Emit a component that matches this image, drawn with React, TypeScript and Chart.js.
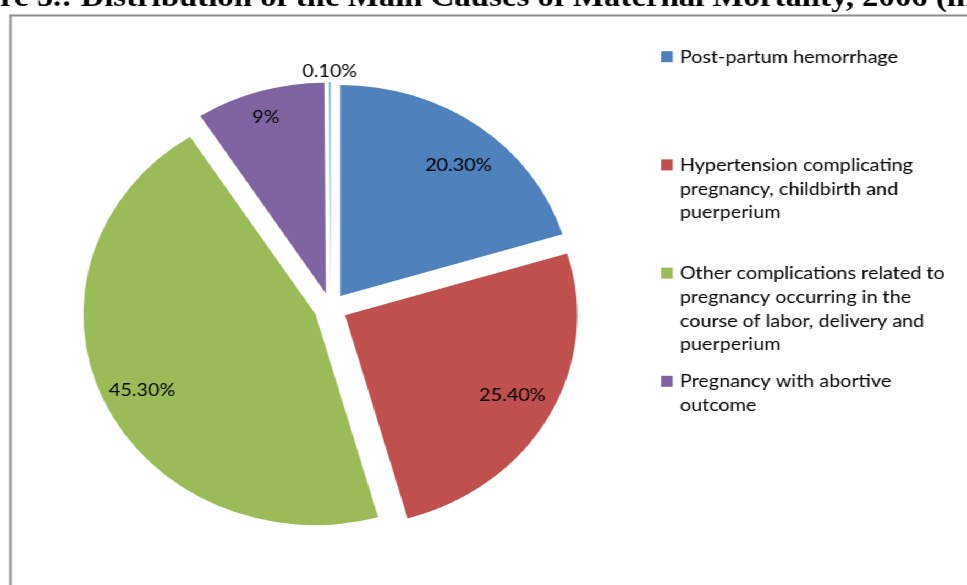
import React, { useEffect, useRef } from "react";
import { Chart, registerables } from "chart.js";

Chart.register(...registerables);

const categories = [
  "Post-partum hemorrhage",
  "Hypertension complicating pregnancy, childbirth and puerperium",
  "Other complications related to pregnancy occurring in the course of labor, delivery and puerperium",
  "Pregnancy with abortive outcome",
  "",
];
const values = [20.3, 25.4, 45.3, 9, 0.1];
const valueLabels = ["20.30%", "25.40%", "45.30%", "9%", "0.10%"];
const legendLines = [
  ["Post-partum hemorrhage"],
  ["Hypertension complicating", "pregnancy, childbirth and", "puerperium"],
  [
    "Other complications related to",
    "pregnancy occurring in the",
    "course of labor, delivery and",
    "puerperium",
  ],
  ["Pregnancy with abortive", "outcome"],
];
const colors = ["#4F81BD", "#C0504D", "#9BBB59", "#8064A2", "#4BACC6"];
const titleText =
  "Figure 5.: Distribution of the Main Causes of Maternal Mortality, 2006 (in %)";

const W = 879;
const H = 585;
const STRETCH = 967 / W;
const EXPLODE = 15;
const RADIUS = 211;
const LABEL_DIST = [0.8, 0.815, 0.83, 0.875, 1.05];
const LABEL_ANGLE = [0.54, 0.49, 0.49, 0.48, 0.5];
const FONT = "Lato";

const framePlugin = {
  id: "frame",
  beforeDraw(chart: any) {
    const ctx = chart.ctx;
    ctx.save();
    ctx.fillStyle = "#ffffff";
    ctx.fillRect(0, 0, chart.width, chart.height);
    // title (cropped at the top)
    ctx.font = `bold 100px "Liberation Serif"`;
    const visible =
      "re 5.: Distribution of the Main Causes of Maternal Mortality, 2006 (in";
    const w100 = ctx.measureText(visible).width;
    const size = (100 * 886) / w100;
    ctx.font = `bold ${size}px "Liberation Serif"`;
    const pre = ctx.measureText("Figu").width;
    ctx.fillStyle = "#000000";
    ctx.textBaseline = "alphabetic";
    ctx.textAlign = "left";
    ctx.fillText(titleText, -pre, 6);
    // frame border
    ctx.strokeStyle = "#8f8f8f";
    ctx.lineWidth = 2;
    ctx.beginPath();
    ctx.moveTo(9.5, H + 5);
    ctx.lineTo(9.5, 15.5);
    ctx.lineTo(W + 5, 15.5);
    ctx.stroke();
    ctx.restore();
  },
};

// Explode every slice outward along its bisector (Excel-style translation)
const explodePlugin = {
  id: "explode",
  afterDatasetsUpdate(chart: any) {
    const meta = chart.getDatasetMeta(0);
    meta.data.forEach((arc: any) => {
      const mid = (arc.startAngle + arc.endAngle) / 2;
      arc.x += Math.cos(mid) * EXPLODE;
      arc.y += Math.sin(mid) * EXPLODE;
    });
  },
};

const labelPlugin = {
  id: "sliceLabels",
  afterDatasetsDraw(chart: any) {
    const ctx = chart.ctx;
    const meta = chart.getDatasetMeta(0);
    ctx.save();
    ctx.font = `18px ${FONT}`;
    ctx.fillStyle = "#000000";
    ctx.textAlign = "center";
    ctx.textBaseline = "middle";
    meta.data.forEach((arc: any, i: number) => {
      const a = arc.startAngle + LABEL_ANGLE[i] * (arc.endAngle - arc.startAngle);
      const d = LABEL_DIST[i] * arc.outerRadius;
      ctx.fillText(valueLabels[i], arc.x + Math.cos(a) * d, arc.y + Math.sin(a) * d);
    });
    ctx.restore();
  },
};

const legendPlugin = {
  id: "customLegend",
  afterDraw(chart: any) {
    const ctx = chart.ctx;
    ctx.save();
    ctx.font = `18px ${FONT}`;
    ctx.textAlign = "left";
    ctx.textBaseline = "middle";
    legendLines.forEach((lines, i) => {
      const y0 = 56.7 + i * 108.2;
      ctx.fillStyle = colors[i];
      ctx.fillRect(601, y0 - 5.5, 10.5, 11);
      ctx.fillStyle = "#000000";
      lines.forEach((line, j) => {
        ctx.fillText(line, 618, y0 + j * 23.8);
      });
    });
    ctx.restore();
  },
};

export default function App() {
  const ref = useRef<HTMLCanvasElement | null>(null);

  useEffect(() => {
    if (!ref.current) return;
    const chart = new Chart(ref.current, {
      type: "pie",
      data: {
        labels: categories,
        datasets: [
          {
            data: values,
            backgroundColor: colors,
            borderWidth: 0,
          } as any,
        ],
      },
      options: {
        responsive: false,
        animation: false,
        events: [],
        radius: RADIUS,
        layout: { padding: { left: 90, right: 368, top: 93, bottom: 62 } },
        plugins: {
          legend: { display: false },
          tooltip: { enabled: false },
          title: { display: false },
        },
      } as any,
      plugins: [framePlugin, explodePlugin, labelPlugin, legendPlugin],
    });
    return () => chart.destroy();
  }, []);

  return (
    <div
      style={{
        position: "fixed",
        left: 0,
        top: 0,
        width: W,
        height: H,
        transform: `scaleX(${STRETCH})`,
        transformOrigin: "0 0",
        background: "#ffffff",
      }}
    >
      <canvas ref={ref} width={W} height={H} style={{ display: "block" }} />
    </div>
  );
}
